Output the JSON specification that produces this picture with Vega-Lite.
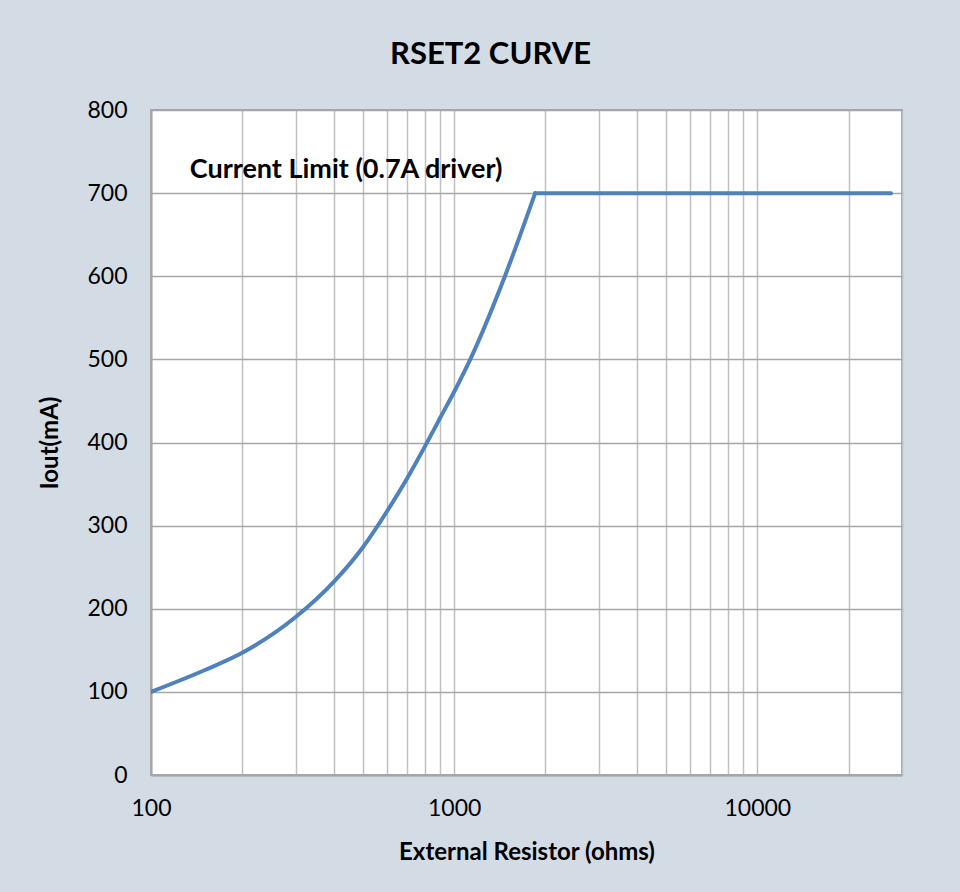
{
  "$schema": "https://vega.github.io/schema/vega-lite/v6.json",
  "autosize": "none",
  "width": 751,
  "height": 665,
  "padding": {"left": 151, "top": 110, "right": 58, "bottom": 117},
  "background": "#d3dbe5",
  "config": {
    "font": "Lato",
    "view": {"fill": "white", "stroke": "#a6a6a6", "strokeWidth": 2}
  },
  "title": {
    "text": "RSET2 CURVE",
    "fontSize": 31,
    "fontWeight": "bold",
    "font": "Lato",
    "color": "black",
    "anchor": "middle",
    "dx": -36,
    "offset": 28
  },
  "datasets": {
    "curve": [
      {"r": 100, "i": 100},
      {"r": 150, "i": 126},
      {"r": 200, "i": 147},
      {"r": 300, "i": 190},
      {"r": 400, "i": 232},
      {"r": 500, "i": 274},
      {"r": 600, "i": 317},
      {"r": 700, "i": 357},
      {"r": 800, "i": 395},
      {"r": 900, "i": 430},
      {"r": 1000, "i": 461},
      {"r": 1130, "i": 500},
      {"r": 1470, "i": 600},
      {"r": 1850, "i": 700}
    ],
    "limit": [
      {"r": 1850, "i": 700},
      {"r": 27600, "i": 700}
    ],
    "note": [{"r": 440, "i": 728, "label": "Current Limit (0.7A driver)"}]
  },
  "layer": [
    {
      "data": {"name": "curve"},
      "mark": {"type": "line", "color": "#4f81bd", "strokeWidth": 4, "clip": true, "interpolate": "monotone", "strokeJoin": "round", "strokeCap": "round"},
      "encoding": {
        "x": {
          "field": "r",
          "type": "quantitative",
          "scale": {"type": "log", "domain": [100, 30000], "nice": false},
          "axis": {
            "title": "External Resistor (ohms)",
            "titleFontSize": 24,
            "titleFontWeight": "bold",
            "titleColor": "black",
            "titlePadding": 20,
            "values": [100, 200, 300, 400, 500, 600, 700, 800, 900, 1000, 2000, 3000, 4000, 5000, 6000, 7000, 8000, 9000, 10000, 20000, 30000],
            "labelExpr": "indexof([100,1000,10000], datum.value) >= 0 ? datum.value : ''",
            "labelFontSize": 23,
            "labelColor": "black",
            "labelPadding": 22,
            "labelFlush": false,
            "tickSize": 0,
            "grid": true,
            "gridColor": "#c0c0c0",
            "gridWidth": 1.5,
            "domainColor": "#a6a6a6",
            "domainWidth": 2
          }
        },
        "y": {
          "field": "i",
          "type": "quantitative",
          "scale": {"domain": [0, 800], "nice": false},
          "axis": {
            "title": "Iout(mA)",
            "titleFontSize": 24,
            "titleFontWeight": "bold",
            "titleColor": "black",
            "titlePadding": 24,
            "values": [0, 100, 200, 300, 400, 500, 600, 700, 800],
            "labelFontSize": 23,
            "labelColor": "black",
            "labelPadding": 24,
            "tickSize": 0,
            "grid": true,
            "gridColor": "#a6a6a6",
            "gridWidth": 1.5,
            "domainColor": "#a6a6a6",
            "domainWidth": 2
          }
        }
      }
    },
    {
      "data": {"name": "limit"},
      "mark": {"type": "line", "color": "#4f81bd", "strokeWidth": 4, "clip": true, "strokeCap": "round"},
      "encoding": {
        "x": {"field": "r", "type": "quantitative"},
        "y": {"field": "i", "type": "quantitative"}
      }
    },
    {
      "data": {"name": "note"},
      "mark": {"type": "text", "fontSize": 27, "fontWeight": "bold", "font": "Lato", "color": "black", "align": "center", "baseline": "middle"},
      "encoding": {
        "x": {"field": "r", "type": "quantitative"},
        "y": {"field": "i", "type": "quantitative"},
        "text": {"field": "label"}
      }
    }
  ]
}
